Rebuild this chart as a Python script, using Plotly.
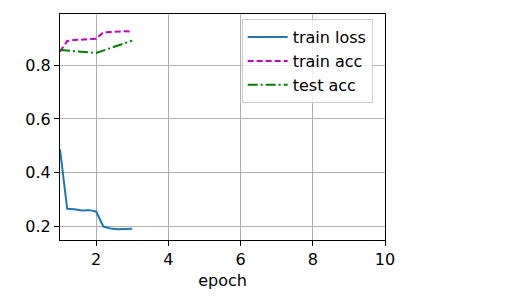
import plotly.graph_objects as go

x_train = [1.0, 1.2, 1.4, 1.6, 1.8, 2.0, 2.2, 2.4, 2.6, 2.8, 3.0]
train_loss = [0.487, 0.266, 0.264, 0.260, 0.261, 0.256, 0.200, 0.193, 0.190, 0.190, 0.192]
train_acc = [0.850, 0.890, 0.893, 0.895, 0.896, 0.898, 0.922, 0.924, 0.925, 0.926, 0.925]
x_test = [1, 2, 3]
test_acc = [0.856, 0.845, 0.891]
x_ticks = [2, 4, 6, 8, 10]
y_ticks = [0.2, 0.4, 0.6, 0.8]

FONT = "DejaVu Sans"
FS = 16

fig = go.Figure()
fig.add_trace(go.Scatter(x=x_train, y=train_loss, mode="lines", name="train loss",
                         line=dict(color="#1f77b4", width=2)))
fig.add_trace(go.Scatter(x=x_train, y=train_acc, mode="lines", name="train acc",
                         line=dict(color="#bf00bf", width=2, dash="6px,3px")))
fig.add_trace(go.Scatter(x=x_test, y=test_acc, mode="lines", name="test acc",
                         line=dict(color="#008000", width=2, dash="10px,3px,2px,3px")))

axis_common = dict(showgrid=True, gridcolor="#b0b0b0", gridwidth=1,
                   showline=True, linecolor="black", linewidth=1, mirror=True,
                   ticks="outside", ticklen=5, tickcolor="black", tickwidth=1,
                   zeroline=False, tickfont=dict(family=FONT, size=FS, color="black"))

fig.update_xaxes(range=[1, 10], tickvals=x_ticks, ticktext=[str(v) for v in x_ticks],
                 title=dict(text="epoch", font=dict(family=FONT, size=FS, color="black"), standoff=6),
                 **axis_common)
fig.update_yaxes(range=[0.15, 0.99], tickvals=y_ticks, ticktext=[f"{v:.1f}" for v in y_ticks],
                 **axis_common)

fig.update_layout(
    width=512, height=303,
    margin=dict(l=60, r=127, t=14, b=63),
    paper_bgcolor="white", plot_bgcolor="white",
    font=dict(family=FONT, size=FS, color="black"),
    showlegend=True,
    legend=dict(x=0.559, y=0.977, xanchor="left", yanchor="top",
                bgcolor="rgba(255,255,255,0.8)", bordercolor="#cccccc", borderwidth=1,
                font=dict(family=FONT, size=FS, color="black"),
                itemwidth=40, tracegroupgap=0),
)

fig.write_html("out.html")
